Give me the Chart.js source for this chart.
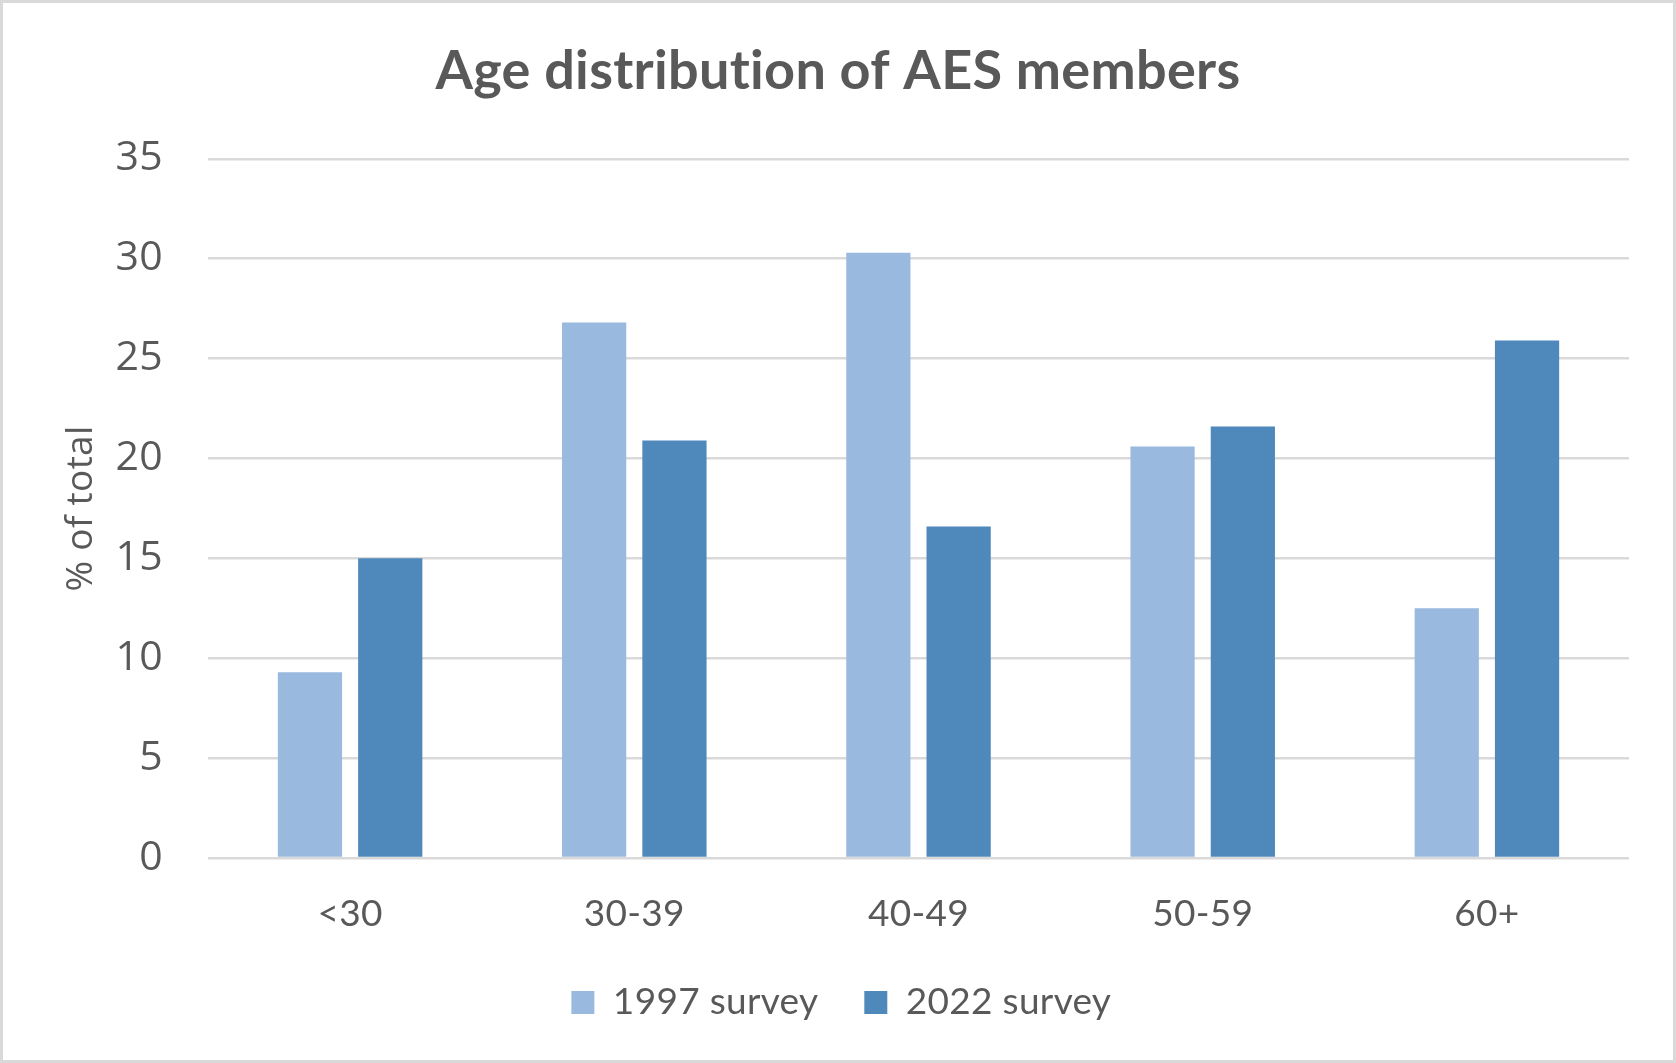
<!DOCTYPE html>
<html>
<head>
<meta charset="utf-8">
<script src="https://cdn.jsdelivr.net/npm/chart.js@4/dist/chart.umd.min.js"></script>
<style>
  html, body { margin: 0; padding: 0; background: #ffffff; }
  #wrap { width: 1676px; height: 1063px; }
</style>
</head>
<body>
<div id="wrap"><canvas id="c" width="1676" height="1063"></canvas></div>
<script>
const categories = ['<30', '30-39', '40-49', '50-59', '60+'];
const seriesNames = ['1997 survey', '2022 survey'];
const survey1997 = [9.3, 26.8, 30.3, 20.6, 12.5];
const survey2022 = [15.0, 20.9, 16.6, 21.6, 25.9];
const yTicks = [0, 5, 10, 15, 20, 25, 30, 35];

const textColor = '#595959';
const gridColor = '#d9d9d9';

const frame = {
  id: 'frame',
  beforeDraw(chart) {
    const ctx = chart.ctx;
    ctx.save();
    ctx.fillStyle = '#ffffff';
    ctx.fillRect(0, 0, chart.width, chart.height);
    ctx.strokeStyle = '#d9d9d9';
    ctx.lineWidth = 3;
    ctx.strokeRect(1.5, 1.5, chart.width - 3, chart.height - 3);
    ctx.restore();
    if ('letterSpacing' in ctx) ctx.letterSpacing = '0.3px';
  }
};

new Chart(document.getElementById('c'), {
  type: 'bar',
  data: {
    labels: categories,
    datasets: [
      { label: seriesNames[0], data: survey1997, backgroundColor: '#9ab9df', borderWidth: 0,
        barPercentage: 0.8, categoryPercentage: 0.565 },
      { label: seriesNames[1], data: survey2022, backgroundColor: '#4f88bb', borderWidth: 0,
        barPercentage: 0.8, categoryPercentage: 0.565 }
    ]
  },
  options: {
    responsive: false,
    devicePixelRatio: 1,
    animation: false,
    layout: { padding: { left: 0, right: 0, top: 0, bottom: 32 } },
    plugins: {
      title: {
        display: true,
        text: 'Age distribution of AES members',
        color: textColor,
        font: { family: 'Lato', size: 54, weight: 'bold', lineHeight: 1.2 },
        padding: { top: 39, bottom: 55 }
      },
      legend: {
        display: true,
        position: 'bottom',
        labels: {
          color: textColor,
          font: { family: 'Lato', size: 37 },
          boxWidth: 23,
          boxHeight: 23,
          padding: 46
        }
      },
      tooltip: { enabled: false }
    },
    scales: {
      x: {
        grid: { display: false, drawTicks: false },
        border: { display: false },
        ticks: {
          color: textColor,
          font: { family: 'Lato', size: 37 },
          padding: 34,
          maxRotation: 0
        },
        afterFit(scale) { scale.height = 80; }
      },
      y: {
        min: 0,
        max: 35,
        afterBuildTicks(scale) { scale.ticks = yTicks.map(v => ({ value: v })); },
        grid: { color: gridColor, lineWidth: 2.5, drawTicks: false },
        border: { display: false },
        ticks: {
          color: textColor,
          font: { family: 'Open Sans', size: 41 },
          padding: 45,
          stepSize: 5
        },
        title: {
          display: true,
          text: '% of total',
          color: textColor,
          font: { family: 'Open Sans', size: 37, lineHeight: 1.2 },
          padding: { top: 59, bottom: 0 }
        },
        afterFit(scale) { scale.width = 208; }
      },
      yRight: {
        position: 'right',
        display: true,
        min: 0,
        max: 35,
        grid: { display: false, drawTicks: false },
        border: { display: false },
        ticks: { display: false },
        afterFit(scale) { scale.width = 47; }
      }
    }
  },
  plugins: [frame]
});
</script>
</body>
</html>
